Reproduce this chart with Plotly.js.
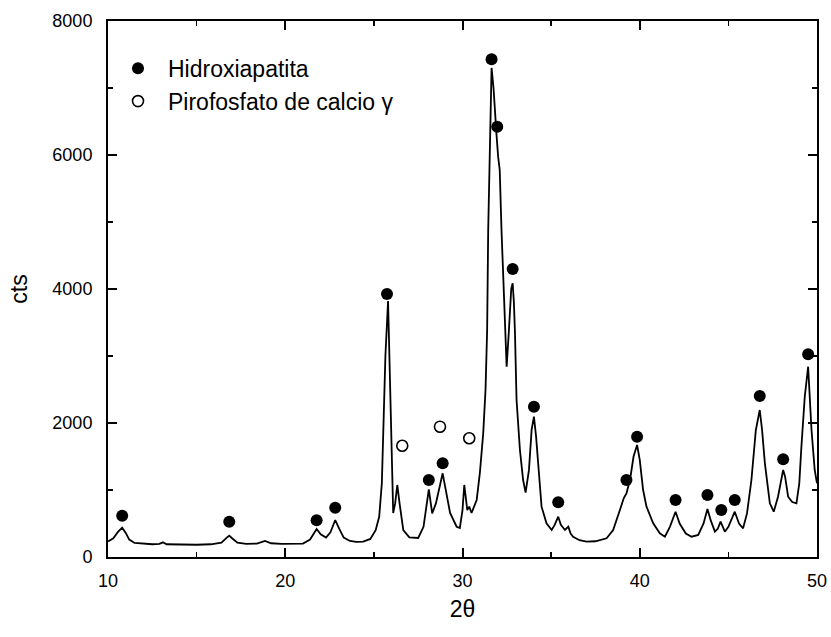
<!DOCTYPE html>
<html>
<head>
<meta charset="utf-8">
<script src="https://cdn.plot.ly/plotly-3.0.1.min.js"></script>
<style>html,body{margin:0;padding:0;background:#fff;}#chart{width:831px;height:637px;}</style>
</head>
<body>
<div id="chart"></div>
<script>
// XRD pattern (2theta, counts)
const twoTheta = [10.0,10.3,10.55,10.8,11.0,11.2,11.5,12.0,12.5,12.9,13.1,13.3,14.0,15.0,15.8,16.4,16.7,16.84,17.0,17.3,17.8,18.4,18.86,19.2,19.8,20.5,21.0,21.4,21.77,22.0,22.3,22.55,22.82,23.05,23.3,23.65,24.0,24.4,24.8,25.1,25.3,25.45,25.55,25.65,25.8,25.9,26.0,26.09,26.2,26.32,26.45,26.66,27.0,27.5,27.8,28.1,28.29,28.5,28.88,29.1,29.3,29.67,29.85,30.0,30.1,30.27,30.38,30.51,30.8,30.98,31.17,31.3,31.39,31.45,31.55,31.64,31.75,31.83,31.92,32.01,32.1,32.2,32.33,32.39,32.49,32.6,32.75,32.83,32.9,32.96,33.05,33.24,33.42,33.56,33.75,33.9,34.03,34.15,34.27,34.46,34.74,35.03,35.2,35.4,35.55,35.78,35.97,36.1,36.24,36.6,37.0,37.5,38.13,38.5,38.88,39.1,39.25,39.45,39.65,39.85,40.0,40.19,40.38,40.76,41.13,41.42,41.7,42.02,42.25,42.6,42.92,43.3,43.6,43.82,44.0,44.24,44.4,44.56,44.8,45.0,45.36,45.6,45.83,46.05,46.3,46.55,46.77,46.9,47.06,47.34,47.56,47.8,48.09,48.2,48.37,48.6,48.84,49.0,49.12,49.31,49.5,49.69,49.87,50.0];
const counts = [230,280,370,437,360,260,210,195,190,195,219,190,185,183,190,215,290,318,280,215,195,200,239,205,195,195,200,260,418,340,290,370,552,420,290,240,225,230,270,400,600,1100,2000,3000,3820,2800,1500,657,800,1075,800,400,294,284,450,1010,652,800,1249,950,657,452,433,700,1075,701,751,657,851,1254,1851,2500,3388,4880,6373,7300,7000,6572,6300,5975,5776,4880,3885,3388,2840,3300,4000,4085,3800,3343,2343,1597,1149,960,1300,1900,2094,1800,1348,751,503,403,480,601,480,403,452,350,303,250,229,235,279,403,701,880,950,1150,1500,1672,1450,1000,751,503,353,303,450,676,500,350,303,330,500,716,550,378,420,527,378,450,676,500,428,650,1149,1896,2194,1900,1398,801,676,900,1299,1200,900,820,801,1100,1646,2393,2840,1896,1299,1100];

// Hydroxyapatite peak markers
const haX = [10.8,16.84,21.77,22.82,25.74,28.1,28.88,31.64,31.96,32.83,34.03,35.4,39.25,39.85,42.02,43.82,44.6,45.36,46.77,48.09,49.5];
const haY = [616,527,548,736,3925,1150,1398,7428,6422,4298,2243,816,1149,1796,851,925,701,851,2403,1458,3025];

// Calcium pyrophosphate gamma markers
const cppX = [26.6,28.73,30.38];
const cppY = [1661,1945,1772];

const legendNames = ['Hidroxiapatita', 'Pirofosfato de calcio γ'];
const xTitle = '2θ';
const yTitle = 'cts';

const FONT = 'Liberation Sans, Arial, sans-serif';

const traces = [
  {x: twoTheta, y: counts, type: 'scatter', mode: 'lines',
   line: {color: '#000', width: 1.8}, showlegend: false, hoverinfo: 'skip'},
  {x: haX, y: haY, type: 'scatter', mode: 'markers', name: legendNames[0],
   marker: {symbol: 'circle', size: 12, color: '#000'}},
  {x: cppX, y: cppY, type: 'scatter', mode: 'markers', name: legendNames[1],
   marker: {symbol: 'circle-open', size: 11, color: '#000', line: {width: 1.6, color: '#000'}}}
];

const axisCommon = {
  showgrid: false, zeroline: false, showline: true, linecolor: '#000', linewidth: 2,
  mirror: 'ticks', ticks: 'inside', tickcolor: '#000', tickwidth: 2, ticklen: 9,
  tickfont: {family: FONT, size: 18, color: '#000'}
};

const layout = {
  width: 831, height: 637,
  margin: {l: 108, r: 14, t: 21, b: 80},
  paper_bgcolor: '#fff', plot_bgcolor: '#fff',
  font: {family: FONT, color: '#000'},
  xaxis: Object.assign({}, axisCommon, {
    range: [10, 50], dtick: 10, tick0: 10, ticklabelstandoff: 6,
    minor: {dtick: 5, ticks: 'inside', ticklen: 5, tickwidth: 1.5, tickcolor: '#000'},
    title: {text: xTitle, font: {family: FONT, size: 23, color: '#000'}, standoff: 11}
  }),
  yaxis: Object.assign({}, axisCommon, {
    range: [0, 8000], dtick: 2000, tick0: 0, ticklabelstandoff: 10,
    minor: {dtick: 1000, ticks: 'inside', ticklen: 5, tickwidth: 1.5, tickcolor: '#000'},
    title: {text: yTitle, font: {family: FONT, size: 23, color: '#000'}, standoff: 18}
  }),
  showlegend: true,
  legend: {x: 0.0, y: 0.952, xanchor: 'left', yanchor: 'top', bgcolor: 'rgba(0,0,0,0)',
           font: {family: FONT, size: 23, color: '#000'}, itemwidth: 50, tracegroupgap: 0}
};

Plotly.newPlot('chart', traces, layout, {displayModeBar: false, staticPlot: true});
</script>
</body>
</html>
